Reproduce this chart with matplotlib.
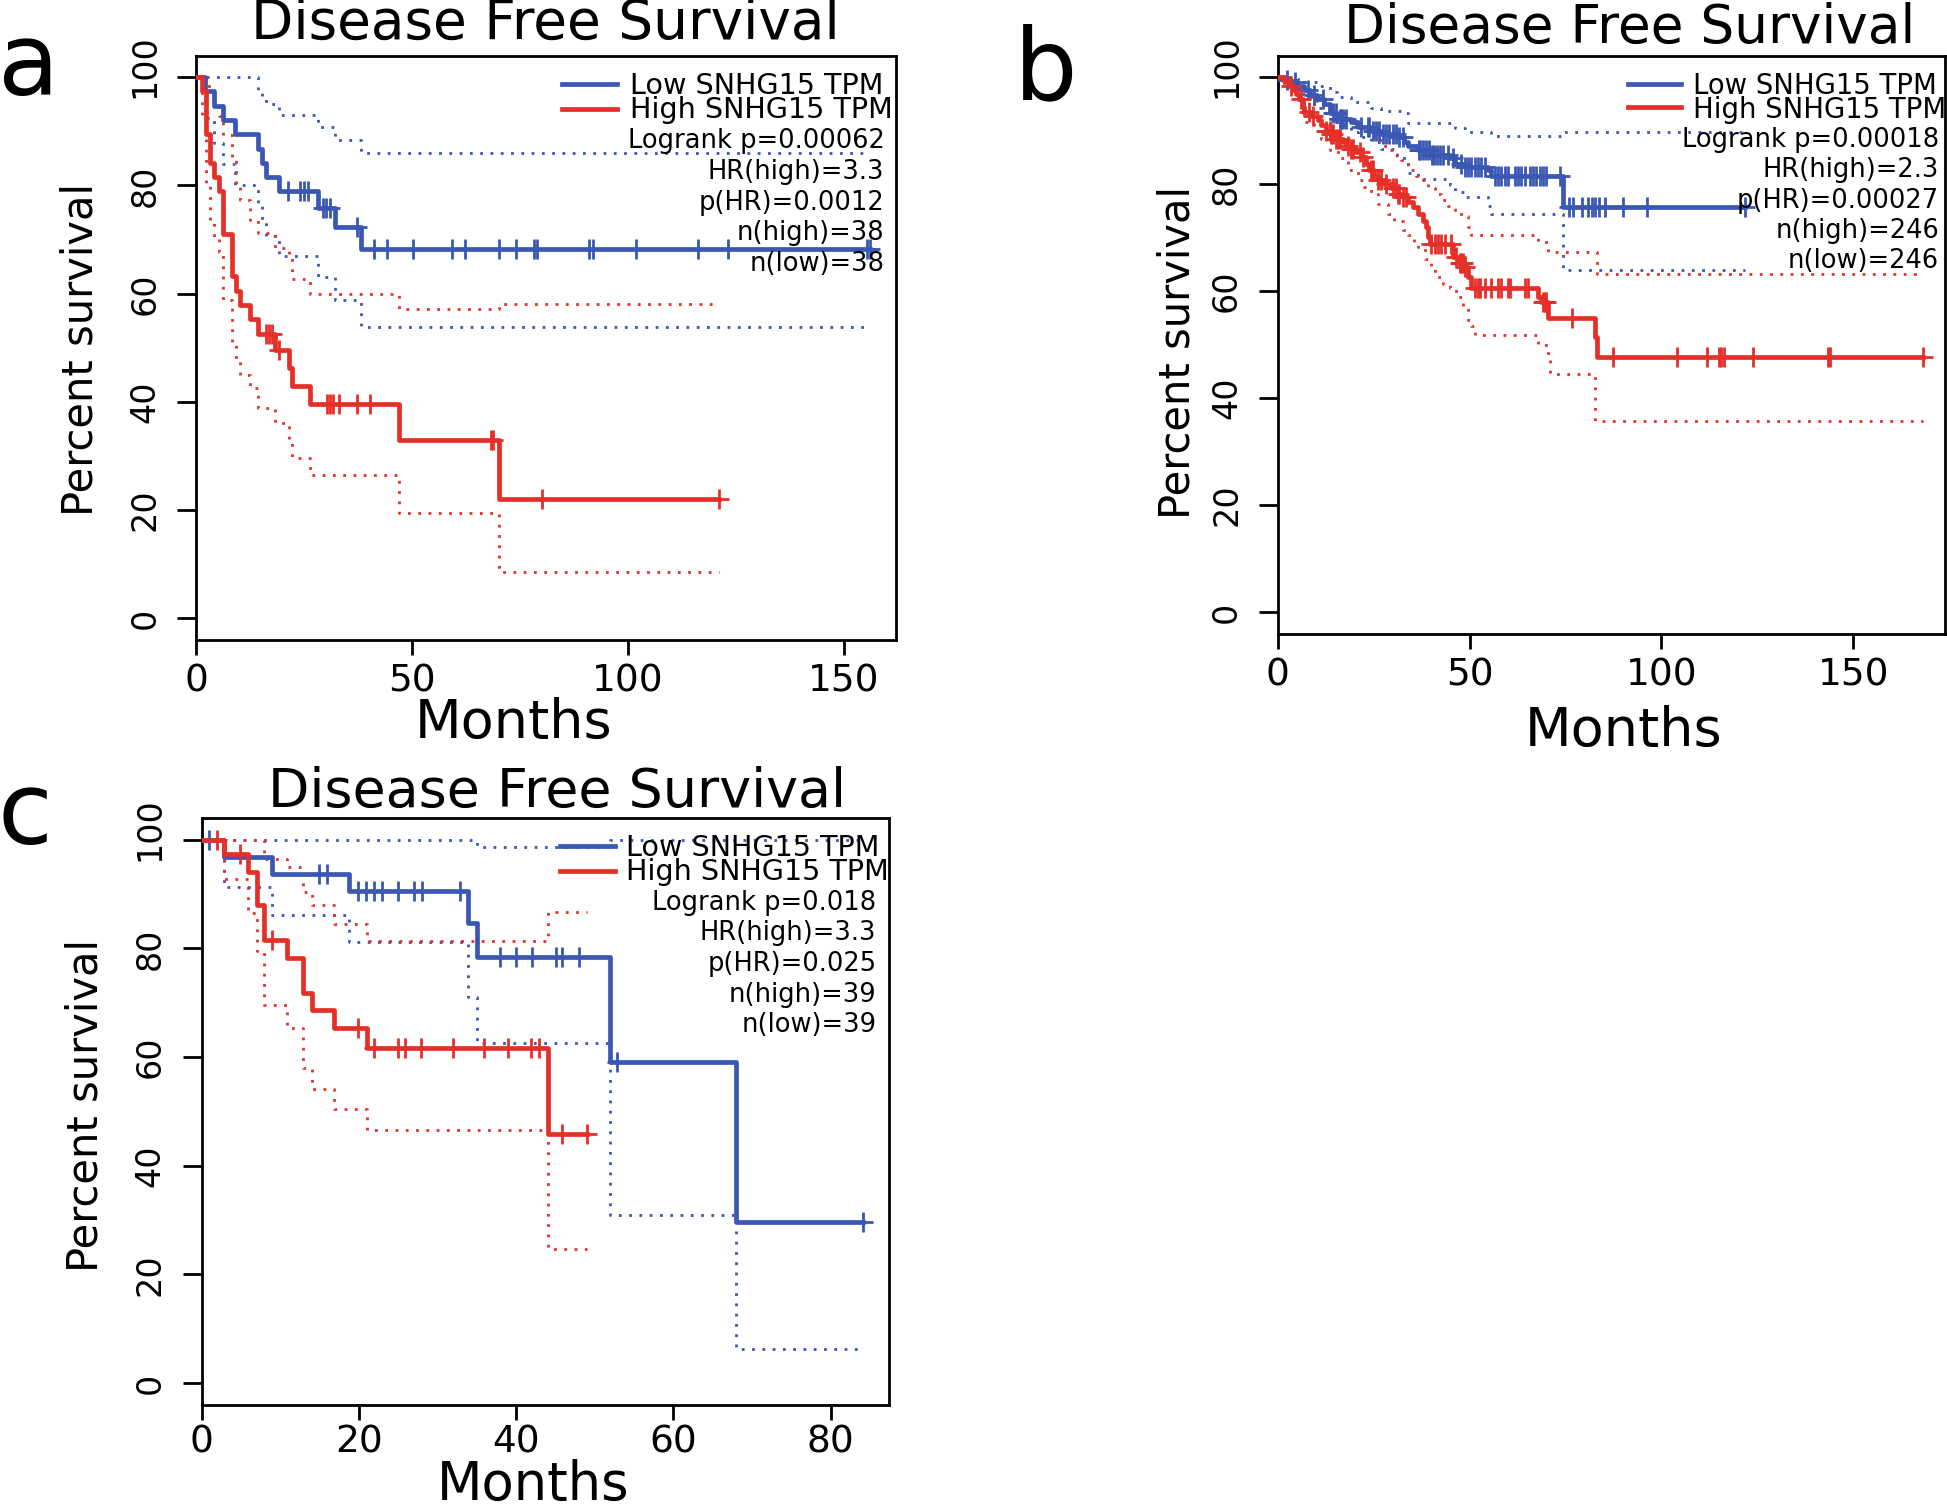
import numpy as np
import matplotlib
matplotlib.use('Agg')
import matplotlib.pyplot as plt
from matplotlib.lines import Line2D
from matplotlib.transforms import ScaledTranslation

W, H = 1947, 1512
BLUE = '#3A57B4'
RED = '#E5302A'
plt.rcParams['font.family'] = ['DejaVu Sans']

y_ticks = [0, 20, 40, 60, 80, 100]

# ---- panel a (n=38 / 38) ----
a_low_t = [0, 2.1, 4.2, 6.2, 9.0, 14.3, 15.2, 16.2, 19.1, 28.2, 32.1, 38.2]
a_low_s = [100, 97.4, 94.7, 92.1, 89.5, 86.8, 84.2, 81.6, 78.9, 75.9, 72.3, 68.2]
a_low_cens = [21.2, 24.1, 25.0, 26.0, 29.3, 30.1, 30.9, 37.2, 41.1, 44.2, 50.2, 59.2, 62.2,
              70.1, 74.1, 78.2, 78.9, 91.1, 91.9, 102.0, 116.2, 123.1, 155.5, 156.1]
a_low_up_t = [0, 14.3, 15.2, 16.2, 19.1, 28.2, 32.1, 38.2]
a_low_up_s = [100, 97.3, 96.0, 95.0, 93.0, 90.8, 88.4, 86.1]
a_low_lo_t = [0, 2.1, 4.2, 6.2, 9.0, 14.3, 15.2, 16.2, 19.1, 28.2, 32.1, 38.2]
a_low_lo_s = [100, 92.5, 87.8, 84.0, 80.1, 76.7, 73.7, 70.6, 67.0, 63.1, 58.9, 53.9]

a_high_t = [0, 1.3, 2.3, 3.2, 4.2, 5.3, 6.2, 8.3, 9.2, 10.2, 12.4, 14.3, 18.3, 21.4, 22.2, 26.3, 47.1, 70.1]
a_high_s = [100, 97.4, 89.5, 84.2, 81.6, 78.9, 71.1, 63.2, 60.5, 57.9, 55.3, 52.6, 49.5, 46.2, 42.9, 39.6, 33.0, 22.0]
a_high_cens = [16.2, 16.8, 17.5, 19.2, 30.3, 31.0, 31.6, 33.1, 37.2, 40.2, 68.3, 68.8, 80.0, 121.2]
a_high_up_t = [0, 2.3, 4.2, 5.3, 6.2, 8.3, 9.2, 10.2, 12.4, 14.3, 18.3, 21.4, 22.2, 26.3, 47.1, 70.1]
a_high_up_s = [100, 98.4, 95.3, 92.8, 89.3, 85.3, 80.1, 77.4, 73.6, 71.2, 68.5, 67.0, 62.8, 59.9, 57.1, 58.1]
a_high_lo_t = [0, 1.3, 2.3, 3.2, 4.2, 5.3, 6.2, 8.3, 9.2, 10.2, 12.4, 14.3, 18.3, 21.4, 22.2, 26.3, 47.1, 70.1]
a_high_lo_s = [100, 93.0, 80.4, 73.7, 70.5, 67.7, 58.8, 50.9, 47.8, 44.9, 42.5, 38.8, 36.0, 32.8, 29.6, 26.4, 19.4, 8.5]

# ---- panel b (n=246 / 246) ----
b_low_t = [0, 1.5, 3.2, 5.0, 6.7, 8.5, 10.2, 12.0, 13.5, 15.4, 19.0, 20.8, 24.2, 26.9, 31.2,
           33.0, 34.0, 36.5, 40.0, 45.0, 46.1, 48.7, 54.8, 55.7, 74.4]
b_low_s = [100, 99.5, 99.1, 98.4, 97.5, 96.6, 95.9, 95.0, 93.2, 92.2, 91.6, 90.7, 90.0, 89.4, 88.8,
           87.9, 87.1, 86.3, 85.4, 84.8, 83.8, 83.2, 82.6, 81.6, 75.7]
b_low_cens = [2.5, 4.5, 7.8, 9.5, 11.7, 14.3, 15.2, 16.1, 16.5, 16.9, 17.8, 21.7, 23.5, 23.9, 24.8,
              25.6, 26.5, 27.4, 28.3, 29.1, 30.0, 30.9, 31.7, 32.6, 36.8, 37.2, 37.9, 38.6, 39.3,
              40.3, 40.7, 41.4, 42.2, 43.1, 44.4, 45.7, 47.8, 48.9, 49.6, 50.4, 51.3, 52.2, 53.1,
              53.9, 56.5, 57.4, 58.3, 59.2, 60.0, 61.8, 62.6, 63.5, 64.4, 65.7, 66.5, 67.4, 68.3,
              69.2, 70.0, 73.5, 75.8, 76.9, 79.2, 80.8, 82.0, 82.8, 83.7, 85.4, 90.0, 96.2, 121.7]
b_low_up_t = [0, 5.0, 6.7, 10.2, 13.5, 15.4, 19.0, 24.2, 26.9, 33.0, 34.0, 46.1, 48.7, 55.7, 74.4]
b_low_up_s = [100, 99.7, 99.1, 98.4, 97.2, 96.3, 95.3, 94.3, 93.6, 93.2, 91.4, 90.4, 89.8, 88.9, 89.7]
b_low_lo_t = [0, 1.5, 3.2, 5.0, 6.7, 8.5, 10.2, 12.0, 13.5, 15.4, 19.0, 20.8, 24.2, 26.9, 31.2,
              33.0, 34.0, 36.5, 45.0, 46.1, 48.7, 54.8, 55.7, 74.4]
b_low_lo_s = [100, 98.5, 97.5, 96.9, 95.9, 95.0, 94.2, 93.2, 92.2, 91.0, 89.8, 88.8, 87.8, 86.6, 85.3,
              84.3, 82.0, 81.0, 79.8, 78.6, 77.5, 76.0, 74.5, 64.0]

b_high_t = [0, 1.7, 3.0, 3.9, 4.8, 5.6, 6.5, 6.9, 8.7, 10.4, 11.3, 12.6, 13.9, 15.2, 16.9, 17.8,
            19.1, 20.4, 21.7, 23.0, 23.9, 25.2, 26.1, 27.8, 29.6, 31.3, 32.6, 33.9, 35.2, 36.5,
            37.8, 38.7, 39.1, 39.6, 45.7, 47.0, 48.7, 49.6, 50.4, 67.8, 68.7, 70.5, 82.7, 83.1]
b_high_s = [100, 99.2, 98.4, 97.5, 96.9, 96.0, 94.4, 93.5, 92.8, 91.9, 91.0, 90.0, 89.4, 88.5, 87.9, 87.2,
            86.6, 86.0, 85.1, 83.8, 82.6, 81.6, 80.7, 80.1, 79.2, 78.2, 77.6, 76.7, 75.7, 74.5,
            73.2, 72.0, 70.1, 68.9, 66.4, 65.2, 64.5, 62.7, 60.5, 58.9, 58.0, 54.9, 51.5, 47.6]
b_high_cens = [3.4, 6.1, 8.2, 9.1, 12.6, 13.5, 13.9, 14.3, 15.2, 15.6, 16.1, 18.2, 19.1, 19.5, 21.3,
               22.2, 24.3, 24.8, 26.1, 27.0, 28.3, 30.0, 30.9, 31.3, 31.7, 32.6, 33.5, 40.0, 40.9,
               41.7, 42.6, 43.5, 45.2, 46.5, 47.4, 47.8, 48.3, 48.7, 51.3, 52.2, 52.6, 53.9, 55.7,
               57.4, 58.3, 60.0, 60.5, 64.4, 65.2, 69.2, 69.6, 70.0, 76.6, 87.4, 104.0, 111.9,
               114.9, 115.6, 116.3, 124.0, 143.3, 143.9, 168.3]
b_high_up_t = [0, 4.3, 5.6, 8.7, 10.4, 12.1, 14.3, 15.6, 17.4, 19.1, 20.4, 21.7, 23.5, 25.2, 26.9,
               28.7, 30.4, 32.2, 33.9, 34.8, 36.1, 37.8, 39.1, 40.9, 42.6, 44.4, 46.1, 47.8, 49.6,
               50.4, 67.8, 70.5, 83.1]
b_high_up_s = [100, 98.4, 97.5, 95.6, 95.0, 94.1, 93.2, 92.5, 91.9, 91.3, 90.4, 89.7, 89.1, 88.3, 87.2,
               86.3, 85.5, 84.5, 83.3, 82.6, 81.6, 80.7, 79.2, 78.2, 77.0, 76.0, 75.1, 74.0, 72.0,
               70.5, 69.2, 67.4, 63.2]
b_high_lo_t = [0, 1.5, 3.4, 5.2, 6.9, 9.5, 11.3, 13.5, 15.6, 18.2, 20.9, 22.6, 24.3, 26.1, 28.7,
               30.4, 32.6, 33.9, 35.6, 36.5, 38.3, 40.0, 40.9, 43.1, 44.8, 46.5, 48.3, 49.6, 50.4,
               51.3, 67.8, 70.5, 70.9, 82.7]
b_high_lo_s = [100, 98.5, 97.5, 95.6, 91.6, 90.0, 88.5, 86.3, 84.8, 82.6, 80.7, 79.5, 78.2, 76.3, 74.5,
               73.2, 71.4, 70.4, 69.2, 68.3, 66.1, 64.5, 62.7, 61.4, 60.5, 58.9, 56.8, 54.6, 53.4,
               51.8, 49.9, 48.1, 44.6, 35.7]

# ---- panel c (n=39 / 39) ----
c_low_t = [0, 2.9, 9.0, 18.8, 33.9, 35.0, 51.9, 68.0]
c_low_s = [100, 96.9, 93.7, 90.6, 84.6, 78.5, 59.1, 29.6]
c_low_cens = [0.9, 15.0, 16.0, 19.9, 20.9, 21.9, 22.9, 25.0, 27.0, 28.0, 32.9, 37.9, 40.0, 42.0,
              45.1, 45.9, 48.0, 52.9, 84.1]
c_low_up_t = [0, 35.0, 51.9]
c_low_up_s = [100, 98.6, 100]
c_low_lo_t = [0, 2.9, 9.0, 18.8, 33.9, 35.0, 51.9, 68.0]
c_low_lo_s = [100, 91.3, 86.2, 81.2, 71.0, 62.5, 31.0, 6.2]

c_high_t = [0, 2.9, 5.9, 7.0, 7.9, 10.9, 12.9, 14.0, 16.9, 21.0, 44.0]
c_high_s = [100, 97.4, 94.0, 87.9, 81.5, 78.2, 71.8, 68.6, 65.3, 61.6, 45.9]
c_high_cens = [2.0, 4.9, 9.0, 19.9, 21.9, 25.0, 25.9, 27.9, 32.0, 35.9, 39.0, 41.9, 42.9, 45.9, 49.0]
c_high_up_t = [0, 7.9, 10.9, 12.9, 14.0, 16.9, 21.0, 44.0]
c_high_up_s = [100, 96.5, 94.9, 90.3, 87.9, 84.5, 81.3, 86.7]
c_high_lo_t = [0, 2.9, 5.9, 7.0, 7.9, 10.9, 12.9, 14.0, 16.9, 21.0, 44.0]
c_high_lo_s = [100, 92.8, 86.5, 79.5, 69.6, 65.3, 57.9, 54.1, 50.5, 46.5, 24.6]

stats_a = ['Logrank p=0.00062', 'HR(high)=3.3', 'p(HR)=0.0012', 'n(high)=38', 'n(low)=38']
stats_b = ['Logrank p=0.00018', 'HR(high)=2.3', 'p(HR)=0.00027', 'n(high)=246', 'n(low)=246']
stats_c = ['Logrank p=0.018', 'HR(high)=3.3', 'p(HR)=0.025', 'n(high)=39', 'n(low)=39']
legend_labels = ['Low SNHG15 TPM', 'High SNHG15 TPM']


def fx(px):
    return px / W


def fy(py):
    return 1 - py / H


def rect_px(l, t, r, b):
    return [l / W, 1 - b / H, (r - l) / W, (b - t) / H]


fig = plt.figure(figsize=(W / 100, H / 100), dpi=100)


def km(ax, t, s, cens, up_t, up_s, lo_t, lo_s, color):
    t = np.asarray(t, float)
    s = np.asarray(s, float)
    cens = np.asarray(cens, float)
    end = cens.max()
    for bt, bs in ((up_t, up_s), (lo_t, lo_s)):
        ax.step(np.append(bt, end), np.append(bs, bs[-1]), where='post', color=color,
                lw=2.0, linestyle=(0, (1, 2.7)), zorder=2)
    ax.step(np.append(t, end), np.append(s, s[-1]), where='post', color=color,
            lw=3.4, zorder=3)
    cs = s[np.searchsorted(t, cens, side='right') - 1]
    ax.plot(cens, cs, linestyle='none', marker='+', ms=14, mew=2.0, color=color, zorder=3)


def panel(box, xmax, xticks, xpad=6.5):
    ax = fig.add_axes(rect_px(*box))
    ax.set_xlim(0, xmax)
    ax.set_ylim(-4, 104)
    ax.set_xticks(xticks)
    ax.set_yticks(y_ticks)
    for sp in ax.spines.values():
        sp.set_linewidth(2)
    ax.tick_params(axis='x', length=10.5, width=2, pad=xpad, labelsize=27)
    ax.tick_params(axis='y', length=14, width=2, pad=11, labelsize=24, labelrotation=90)
    labs = ax.get_yticklabels()
    for lab in labs:
        lab.set_va('center')
    # the top label sits a little above its tick, as in the original
    labs[-1].set_transform(labs[-1].get_transform() + ScaledTranslation(0, 0.11, fig.dpi_scale_trans))
    return ax


def decorate(title_xy, title_size, ylab_xy, xlab_xy, xlab_size, letter, letter_xy,
             leg_x, leg_y, txt_x, leg_size, stats_x, stats_y, stats):
    fig.text(fx(title_xy[0]), fy(title_xy[1]), 'Disease Free Survival', fontsize=title_size,
             ha='center', va='baseline')
    fig.text(fx(ylab_xy[0]), fy(ylab_xy[1]), 'Percent survival', fontsize=30,
             ha='center', va='center', rotation=90)
    fig.text(fx(xlab_xy[0]), fy(xlab_xy[1]), 'Months', fontsize=xlab_size, ha='center', va='baseline')
    fig.text(fx(letter_xy[0]), fy(letter_xy[1]), letter, fontsize=72, ha='center', va='baseline')
    for y, col in zip(leg_y, [BLUE, RED]):
        fig.add_artist(Line2D([fx(leg_x[0]), fx(leg_x[1])], [fy(y), fy(y)],
                              transform=fig.transFigure, color=col, lw=3.4))
    # both legend labels in one text block, baselines just below the two lines
    em = leg_size * 100 / 72
    b1, b2 = leg_y[0] + 9.5, leg_y[1] + 9.5
    fig.text(fx(txt_x), fy((b1 + b2) / 2 - 0.262 * em), '\n'.join(legend_labels),
             fontsize=leg_size, ha='left', va='center',
             linespacing=(b2 - b1 - 0.236 * em) / (0.76 * em))
    for yb, line in zip(stats_y, stats):
        fig.text(fx(stats_x), fy(yb), line, fontsize=18.5, ha='right', va='baseline')


# panel a
ax_a = panel((196.2, 55.7, 896.3, 639.8), 162.2, [0, 50, 100, 150])
km(ax_a, a_low_t, a_low_s, a_low_cens, a_low_up_t, a_low_up_s, a_low_lo_t, a_low_lo_s, BLUE)
km(ax_a, a_high_t, a_high_s, a_high_cens, a_high_up_t, a_high_up_s, a_high_lo_t, a_high_lo_s, RED)
decorate((545.5, 38.8), 39.6, (81, 349), (513.8, 738), 39, 'a', (29, 94.5),
         (561.9, 617), (83.7, 108.5), 629.8, 20.6, 884.5,
         [148.5, 179.1, 209.8, 240.4, 271.0], stats_a)

# panel b
ax_b = panel((1277.8, 55.7, 1944.5, 633.6), 173.8, [0, 50, 100, 150])
km(ax_b, b_low_t, b_low_s, b_low_cens, b_low_up_t, b_low_up_s, b_low_lo_t, b_low_lo_s, BLUE)
km(ax_b, b_high_t, b_high_s, b_high_cens, b_high_up_t, b_high_up_s, b_high_lo_t, b_high_lo_s, RED)
decorate((1629.7, 42.5), 38.3, (1177.8, 352.6), (1624, 746.3), 39, 'b', (1045.5, 99.3),
         (1627.8, 1681), (83.7, 107.4), 1692.8, 19.8, 1939,
         [146.6, 177.2, 207.9, 238.5, 268.3], stats_b)

# panel c
ax_c = panel((201.5, 818, 888.8, 1404.8), 87.4, [0, 20, 40, 60, 80], xpad=3.5)
km(ax_c, c_low_t, c_low_s, c_low_cens, c_low_up_t, c_low_up_s, c_low_lo_t, c_low_lo_s, BLUE)
km(ax_c, c_high_t, c_high_s, c_high_cens, c_high_up_t, c_high_up_s, c_high_lo_t, c_high_lo_s, RED)
decorate((557, 807), 38.8, (85.7, 1105), (532.7, 1500), 38, 'c', (25, 844.4),
         (559.6, 614.7), (846, 870.5), 626.2, 20.6, 876.4,
         [909.7, 940.3, 971.0, 1001.6, 1032.2], stats_c)

fig.savefig('out.png', dpi=100)
